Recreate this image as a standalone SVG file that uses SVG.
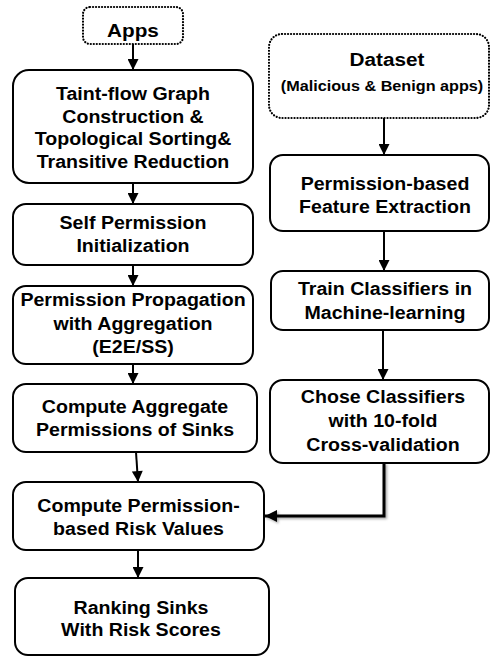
<svg xmlns="http://www.w3.org/2000/svg" width="491" height="656" viewBox="0 0 491 656">
<style>
.box{fill:#fff;stroke:#000;stroke-width:2}
.dot{fill:#fff;stroke:#000;stroke-width:2.2;stroke-dasharray:0.1 2.9;stroke-linecap:round}
.t{font-family:"Liberation Sans",Arial,sans-serif;font-weight:bold;font-size:17.5px;text-anchor:middle;fill:#000}
.big{font-size:18.5px}
.c{stroke:#000;stroke-width:2;fill:none}
</style>
<defs>
<marker id="ah" viewBox="0 0 10 10" refX="10" refY="5" markerWidth="12" markerHeight="11" markerUnits="userSpaceOnUse" orient="auto">
<path d="M0,0 L10,5 L0,10 Z" fill="#000"/>
</marker>
<marker id="ah2" viewBox="0 0 10 10" refX="10" refY="5" markerWidth="12" markerHeight="12" markerUnits="userSpaceOnUse" orient="auto">
<path d="M0,0 L10,5 L0,10 Z" fill="#000"/>
</marker>
<filter id="sh" x="-10%" y="-10%" width="120%" height="130%">
<feDropShadow dx="1.5" dy="1.5" stdDeviation="1" flood-color="#000" flood-opacity="0.35"/>
</filter>
</defs>

<g id="connectors">
<line class="c" x1="133" y1="44" x2="133" y2="70" marker-end="url(#ah)"/>
<line class="c" x1="133" y1="183" x2="133" y2="204" marker-end="url(#ah)"/>
<line class="c" x1="133" y1="265" x2="133" y2="286" marker-end="url(#ah)"/>
<line class="c" x1="133" y1="364" x2="133" y2="384" marker-end="url(#ah)"/>
<line class="c" x1="136" y1="452" x2="138" y2="482" marker-end="url(#ah)"/>
<line class="c" x1="138" y1="550" x2="138" y2="578" marker-end="url(#ah)"/>
<line class="c" x1="384" y1="118" x2="384" y2="155" marker-end="url(#ah)"/>
<line class="c" x1="384" y1="231" x2="384" y2="271" marker-end="url(#ah)"/>
<line class="c" x1="383" y1="330" x2="383" y2="380" marker-end="url(#ah)"/>
<path d="M384,463 L384,516 L265,516" stroke="#000" stroke-width="3" fill="none" filter="url(#sh)" marker-end="url(#ah2)"/>
</g>

<g id="apps">
<rect class="dot" x="83" y="7" width="100" height="37" rx="7"/>
<g transform="translate(133 0) scale(1.12 1)"><text class="t big" x="0" y="37">Apps</text></g>
</g>

<g id="taint">
<rect class="box" x="13" y="70" width="240" height="113" rx="16"/>
<g transform="translate(133 0) scale(1.12 1)">
<text class="t" x="0" y="100.5">Taint-flow Graph</text>
<text class="t" x="0" y="123">Construction &amp;</text>
<text class="t" x="0" y="145.5">Topological Sorting&amp;</text>
<text class="t" x="0" y="168">Transitive Reduction</text>
</g>
</g>

<g id="self">
<rect class="box" x="13" y="204" width="240" height="61" rx="13"/>
<g transform="translate(133 0) scale(1.12 1)">
<text class="t" x="0" y="229">Self Permission</text>
<text class="t" x="0" y="252.5">Initialization</text>
</g>
</g>

<g id="propagation">
<rect class="box" x="13" y="286" width="240" height="78" rx="13"/>
<g transform="translate(133 0) scale(1.12 1)">
<text class="t" x="0" y="306">Permission Propagation</text>
<text class="t" x="0" y="330">with Aggregation</text>
<text class="t" x="0" y="353.5">(E2E/SS)</text>
</g>
</g>

<g id="aggregate">
<rect class="box" x="13" y="384" width="244" height="68" rx="13"/>
<g transform="translate(135 0) scale(1.12 1)">
<text class="t" x="0" y="413">Compute Aggregate</text>
<text class="t" x="0" y="436">Permissions of Sinks</text>
</g>
</g>

<g id="risk">
<rect class="box" x="13" y="482" width="251" height="68" rx="13"/>
<g transform="translate(138.5 0) scale(1.12 1)">
<text class="t" x="0" y="512">Compute Permission-</text>
<text class="t" x="0" y="535">based Risk Values</text>
</g>
</g>

<g id="ranking">
<rect class="box" x="15" y="578" width="254" height="77" rx="13"/>
<g transform="translate(141 0) scale(1.12 1)">
<text class="t" x="0" y="614">Ranking Sinks</text>
<text class="t" x="0" y="636.5">With Risk Scores</text>
</g>
</g>

<g id="dataset">
<rect class="dot" x="269" y="34" width="220" height="84" rx="13"/>
<g transform="translate(387 0) scale(1.12 1)"><text class="t big" x="0" y="66.5">Dataset</text></g>
<g transform="translate(382 0) scale(1.08 1)"><text class="t" x="0" y="91" style="font-size:15px">(Malicious &amp; Benign apps)</text></g>
</g>

<g id="feature">
<rect class="box" x="270" y="155" width="219" height="76" rx="13"/>
<g transform="translate(385 0) scale(1.12 1)">
<text class="t" x="0" y="190">Permission-based</text>
<text class="t" x="0" y="213">Feature Extraction</text>
</g>
</g>

<g id="train">
<rect class="box" x="271" y="271" width="218" height="59" rx="12"/>
<g transform="translate(385 0) scale(1.12 1)">
<text class="t" x="0" y="295">Train Classifiers in</text>
<text class="t" x="0" y="319">Machine-learning</text>
</g>
</g>

<g id="chose">
<rect class="box" x="270" y="380" width="219" height="83" rx="13"/>
<g transform="translate(383 0) scale(1.12 1)">
<text class="t" x="0" y="403">Chose Classifiers</text>
<text class="t" x="0" y="427">with 10-fold</text>
<text class="t" x="0" y="451.5">Cross-validation</text>
</g>
</g>
</svg>
